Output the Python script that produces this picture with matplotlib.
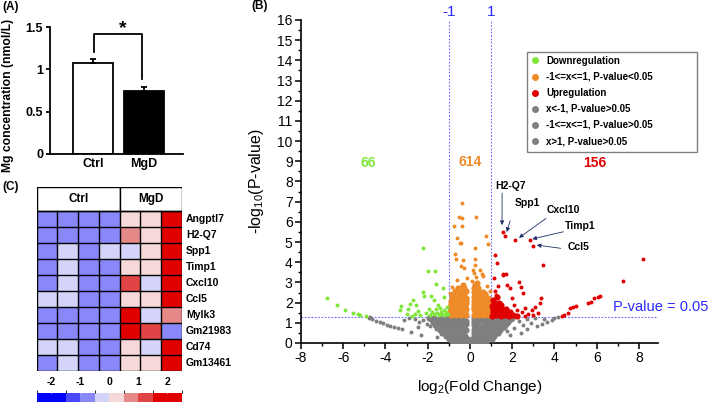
import matplotlib.pyplot as plt
from matplotlib.colors import ListedColormap, BoundaryNorm
from matplotlib.cm import ScalarMappable
from matplotlib.lines import Line2D
from matplotlib.patches import Rectangle
from matplotlib.ticker import MultipleLocator

plt.rcParams['font.family'] = ['Liberation Sans', 'DejaVu Sans']
plt.rcParams['mathtext.default'] = 'regular'
plt.rcParams['axes.unicode_minus'] = False

# ---- panel A data
groups = ['Ctrl', 'MgD']
mg_mean = [1.08, 0.74]
mg_err = [0.04, 0.05]

# ---- panel C data
genes = ['Angptl7', 'H2-Q7', 'Spp1', 'Timp1', 'Cxcl10', 'Ccl5', 'Mylk3',
         'Gm21983', 'Cd74', 'Gm13461']
heat_values = [
    [-0.75, -0.75, -0.75, -0.75, 0.25, 0.25, 2.0],
    [-0.75, -0.75, -0.75, -0.75, 0.75, 0.25, 2.0],
    [-0.75, -0.25, -0.75, -0.25, -0.25, 0.25, 2.0],
    [-0.75, -0.25, -0.75, -0.75, 0.25, 0.25, 2.0],
    [-0.75, -0.25, -0.75, -0.75, 1.25, -0.25, 2.0],
    [-0.25, -0.25, -0.75, -0.75, 0.25, 0.25, 2.0],
    [-0.75, -0.75, -0.75, -0.75, 2.0, -0.25, 0.75],
    [-0.75, -0.75, -0.75, -0.75, 2.0, 1.25, -0.75],
    [-0.25, -0.25, -0.75, -0.75, 0.25, -0.25, 2.0],
    [-0.75, -0.25, -0.75, -0.75, 0.25, 0.25, 2.0],
]
cb_bounds = [-2.5, -1.5, -1, -0.5, 0, 0.5, 1, 1.5, 2.5]
cb_colors = ['#0000ff', '#4848ff', '#8888fa', '#d4d4fa',
             '#f6d8d8', '#e48888', '#e04444', '#e00000']
cb_ticks = [-2, -1, 0, 1, 2]

# ---- panel B data (log2 fold change, -log10 p)
down_pts = [(-6.77, 2.21), (-6.30, 1.88), (-5.92, 1.63), (-5.56, 1.47), (-5.28, 1.43),
            (-5.22, 1.38), (-4.93, 1.35), (-3.28, 1.83), (-3.30, 1.63), (-2.92, 1.70),
            (-2.84, 1.93), (-2.72, 2.13), (-2.24, 2.54), (-2.17, 2.33), (-2.00, 3.56),
            (-2.20, 4.72), (-1.66, 3.56), (-1.60, 2.92), (-1.86, 2.33), (-1.70, 2.12),
            (-1.26, 2.70), (-1.22, 2.26), (-2.60, 1.45), (-2.45, 1.60), (-2.35, 1.40),
            (-2.10, 1.50), (-1.95, 1.70), (-1.90, 1.38), (-1.80, 1.55), (-1.70, 1.42),
            (-1.62, 1.66), (-1.55, 1.50), (-1.48, 1.38), (-1.42, 1.75), (-1.38, 1.55),
            (-1.30, 1.45), (-1.25, 1.62), (-1.18, 1.38), (-1.12, 1.52), (-1.08, 1.80),
            (-1.05, 1.42), (-2.75, 1.35), (-3.00, 1.42), (-2.55, 1.88), (-1.50, 1.90)]

up_pts = [(1.55, 5.50), (1.66, 5.30), (2.13, 5.10), (2.84, 5.10), (2.99, 4.80),
          (3.47, 3.86), (8.20, 4.15), (7.25, 3.07), (6.18, 2.33), (6.05, 2.28),
          (5.88, 2.24), (5.72, 2.05), (5.60, 1.97), (5.02, 1.83), (4.90, 1.78),
          (4.74, 1.72), (4.65, 1.48), (4.45, 1.39), (4.34, 1.35), (1.58, 3.42),
          (1.34, 2.82), (1.77, 2.87), (1.90, 2.70), (1.18, 2.59), (1.98, 2.21),
          (2.34, 3.03), (2.42, 2.76), (2.53, 2.49), (3.36, 2.21), (3.32, 2.00),
          (3.08, 1.77), (2.92, 1.63), (2.60, 1.72), (2.45, 1.55), (2.21, 1.63),
          (2.76, 1.43), (1.12, 3.20), (1.25, 2.40), (2.10, 1.90), (2.60, 1.35),
          (3.00, 1.40), (3.20, 1.50), (1.18, 4.36), (1.30, 3.94), (1.55, 3.37),
          (1.70, 3.42)]
up_core = [(1.05, 1.36), (1.25, 1.38), (1.45, 1.35), (1.65, 1.37), (1.85, 1.36),
           (2.05, 1.38), (2.25, 1.36), (1.08, 1.52), (1.28, 1.50), (1.48, 1.53),
           (1.68, 1.50), (1.90, 1.52), (1.10, 1.68), (1.30, 1.66), (1.52, 1.70),
           (1.72, 1.67), (1.06, 1.84), (1.26, 1.82), (1.48, 1.86), (1.15, 2.00),
           (1.38, 1.98), (1.10, 2.15), (1.30, 2.30)]

mid_pts = [(-0.38, 6.93), (-0.54, 6.25), (-0.37, 6.20), (0.29, 6.24), (-0.77, 5.80),
           (-0.38, 5.80), (0.76, 5.30), (-0.61, 5.20), (-0.47, 4.97), (-0.42, 4.97),
           (0.85, 4.90), (0.25, 4.70), (-0.70, 4.40), (-0.66, 4.16), (-0.35, 4.10),
           (0.22, 4.15), (-0.42, 3.80), (-0.28, 3.70), (0.24, 3.86), (0.47, 3.60),
           (0.20, 3.47), (0.55, 3.40), (0.62, 3.30), (0.30, 3.25), (-0.15, 3.20),
           (-0.60, 3.10), (-0.85, 2.75), (0.80, 2.80), (0.95, 2.60), (-0.95, 2.50),
           (0.15, 3.60), (0.10, 3.05)]
mid_core = [(-0.92, 1.38), (-0.68, 1.40), (-0.44, 1.37), (-0.20, 1.39), (0.20, 1.38),
            (0.44, 1.40), (0.68, 1.37), (0.92, 1.39), (-0.95, 1.52), (-0.72, 1.54),
            (-0.48, 1.51), (-0.24, 1.53), (0.22, 1.52), (0.47, 1.54), (0.72, 1.51),
            (0.95, 1.53), (-0.90, 1.66), (-0.66, 1.68), (-0.42, 1.65), (-0.19, 1.67),
            (0.18, 1.66), (0.42, 1.68), (0.66, 1.65), (0.90, 1.67), (-0.94, 1.80),
            (-0.70, 1.82), (-0.46, 1.79), (-0.22, 1.81), (0.21, 1.80), (0.45, 1.82),
            (0.70, 1.79), (0.93, 1.81), (-0.88, 1.95), (-0.64, 1.97), (-0.40, 1.94),
            (-0.18, 1.96), (0.18, 1.95), (0.41, 1.97), (0.65, 1.94), (0.88, 1.96),
            (-0.90, 2.10), (-0.66, 2.12), (-0.42, 2.09), (-0.20, 2.11), (0.20, 2.10),
            (0.43, 2.12), (0.67, 2.09), (0.90, 2.11), (-0.84, 2.26), (-0.60, 2.24),
            (-0.36, 2.27), (-0.17, 2.25), (0.17, 2.26), (0.38, 2.24), (0.62, 2.27),
            (0.86, 2.25), (-0.78, 2.40), (-0.52, 2.42), (-0.30, 2.39), (0.22, 2.41),
            (0.45, 2.40), (0.70, 2.42), (-0.70, 2.56), (-0.42, 2.54), (-0.20, 2.57),
            (0.18, 2.55), (0.40, 2.56), (0.62, 2.54), (-0.55, 2.70), (-0.28, 2.72),
            (0.20, 2.70), (0.38, 2.72), (-0.35, 2.86), (0.24, 2.85), (0.32, 2.98)]

ns_pts = [(-4.74, 1.27), (-4.80, 1.22), (-4.62, 1.18), (-4.45, 1.10), (-4.27, 1.04),
          (-4.10, 0.98), (-3.95, 0.90), (-3.80, 0.84), (-3.60, 0.78), (-3.43, 0.73),
          (-3.22, 0.69), (-2.80, 0.56), (-2.32, 0.40), (-2.05, 0.94), (-1.90, 0.82),
          (-1.60, 0.70), (-1.58, 0.30), (-2.60, 1.20), (-2.40, 1.05), (-2.20, 1.15),
          (-2.90, 1.25), (-3.10, 1.15), (-2.45, 0.78), (-1.75, 1.05),
          (4.18, 1.30), (3.87, 1.14), (3.63, 1.05), (3.40, 0.94), (3.16, 0.84),
          (2.68, 0.68), (1.90, 0.40), (2.90, 1.00), (2.50, 0.90), (2.30, 1.10),
          (2.70, 1.20), (3.10, 1.22), (2.10, 0.75), (1.75, 0.60), (2.40, 0.50),
          (3.50, 1.20), (4.00, 1.22)]
ns_core = [(-0.85, 0.08), (-0.62, 0.05), (-0.38, 0.07), (-0.15, 0.04), (0.08, 0.06),
           (0.30, 0.05), (0.52, 0.08), (0.75, 0.06), (-1.00, 0.20), (-0.78, 0.22),
           (-0.55, 0.18), (-0.32, 0.21), (-0.10, 0.19), (0.14, 0.20), (0.36, 0.22),
           (0.60, 0.18), (0.83, 0.21), (1.02, 0.19), (-1.15, 0.34), (-0.92, 0.36),
           (-0.70, 0.33), (-0.46, 0.35), (-0.22, 0.37), (0.20, 0.34), (0.44, 0.36),
           (0.68, 0.33), (0.92, 0.35), (1.16, 0.37), (-1.30, 0.48), (-1.06, 0.50),
           (-0.83, 0.47), (-0.58, 0.51), (-0.32, 0.49), (0.18, 0.48), (0.36, 0.50),
           (0.60, 0.53), (0.85, 0.49), (1.10, 0.51), (1.34, 0.48), (-1.43, 0.63),
           (-1.19, 0.65), (-0.95, 0.62), (-0.70, 0.66), (-0.44, 0.64), (-0.18, 0.62),
           (0.17, 0.65), (0.42, 0.63), (0.67, 0.66), (0.92, 0.62), (1.18, 0.64),
           (1.44, 0.66), (-1.56, 0.77), (-1.30, 0.79), (-1.05, 0.76), (-0.80, 0.80),
           (-0.55, 0.78), (-0.28, 0.77), (0.30, 0.79), (0.58, 0.76), (0.83, 0.80),
           (1.08, 0.78), (1.34, 0.77), (1.60, 0.80), (-1.66, 0.91), (-1.40, 0.93),
           (-1.15, 0.90), (-0.90, 0.94), (-0.63, 0.92), (-0.36, 0.90), (-0.17, 0.93),
           (0.17, 0.91), (0.38, 0.94), (0.65, 0.91), (0.90, 0.93), (1.16, 0.90),
           (1.42, 0.94), (1.70, 0.92), (-1.76, 1.05), (-1.50, 1.07), (-1.25, 1.04),
           (-1.00, 1.08), (-0.72, 1.05), (-0.45, 1.03), (-0.18, 1.07), (0.18, 1.05),
           (0.42, 1.08), (0.70, 1.04), (0.98, 1.06), (1.25, 1.05), (1.52, 1.08),
           (1.80, 1.04), (-1.86, 1.18), (-1.60, 1.16), (-1.35, 1.19), (-1.08, 1.17),
           (-0.80, 1.15), (-0.52, 1.18), (-0.26, 1.16), (0.20, 1.17), (0.30, 1.16),
           (0.56, 1.19), (0.82, 1.17), (1.10, 1.15), (1.38, 1.18), (1.66, 1.16),
           (1.94, 1.19), (-1.96, 1.25), (-1.70, 1.26), (-1.42, 1.24), (-1.15, 1.26),
           (-0.88, 1.25), (-0.60, 1.24), (-0.33, 1.26), (0.35, 1.25), (0.62, 1.26),
           (0.90, 1.24), (1.18, 1.25), (1.45, 1.26), (1.72, 1.24), (2.00, 1.26)]

counts = {'down': '66', 'mid': '614', 'up': '156'}
labelled = [('H2-Q7', (1.52, 5.84), (1.52, 7.43), (1.9, 7.77)),
            ('Spp1', (1.74, 5.50), (1.90, 6.05), (2.7, 6.93)),
            ('Cxcl10', (2.32, 5.21), (3.60, 6.17), (4.41, 6.58)),
            ('Timp1', (2.95, 5.15), (4.42, 5.51), (5.24, 5.79)),
            ('Ccl5', (3.16, 4.85), (4.30, 4.69), (5.12, 4.74))]

green = '#80e63a'
orange = '#ee8a28'
red = '#e00000'
grey = '#7f7f7f'
vblue = '#6a6aff'

fig = plt.figure(figsize=(7.09, 4.03), dpi=100)

# ================= (A) bar chart
axA = fig.add_axes([0.0705, 0.6179, 0.1876, 0.3151])
xpos = [0, 1]
axA.bar(xpos, mg_mean, width=0.78, color=['white', 'black'], edgecolor='black', linewidth=1.3)
axA.errorbar(xpos, mg_mean, yerr=[[0, 0], mg_err], fmt='none', ecolor='black',
             elinewidth=1.3, capsize=2.5, capthick=1.3)
axA.set_xlim(-0.84, 1.77)
axA.set_ylim(0, 1.5)
axA.spines[['top', 'right']].set_visible(False)
axA.spines[['left', 'bottom']].set_linewidth(1.3)
axA.set_yticks([0, 0.5, 1, 1.5])
axA.set_yticklabels(['0', '0.5', '1', '1.5'], fontsize=9, fontweight='bold')
axA.set_xticks(xpos)
axA.set_xticklabels(groups, fontsize=9, fontweight='bold')
axA.tick_params(axis='x', length=0, pad=3)
axA.tick_params(axis='y', length=3, width=1.3, pad=2)
axA.set_ylabel('Mg concentration (nmol/L)', fontsize=8.7, fontweight='bold', labelpad=5)
axA.yaxis.set_label_coords(-0.27, 0.46)
axA.plot([0.02, 0.02, 0.97, 0.97], [1.21, 1.42, 1.42, 0.89], color='black', lw=1.3, clip_on=False)
axA.text(0.59, 1.48, '*', ha='center', va='center', fontsize=14, fontweight='bold')

# ================= (C) heatmap
cmap = ListedColormap(cb_colors)
norm = BoundaryNorm(cb_bounds, cmap.N)
axC = fig.add_axes([0.0518, 0.0801, 0.2045, 0.4558])
axC.imshow(heat_values, cmap=cmap, norm=norm, extent=(0, 7, 10, 0),
           aspect='auto', interpolation='nearest')
axC.set_xlim(0, 7)
axC.set_ylim(10, -1.5)
for i in range(11):
    axC.plot([0, 7], [i, i], color='black', lw=1)
for j in range(8):
    axC.plot([j, j], [0, 10], color='black', lw=1)
axC.add_patch(Rectangle((0, -1.5), 4, 1.5, facecolor='white', edgecolor='black', lw=1))
axC.add_patch(Rectangle((4, -1.5), 3, 1.5, facecolor='white', edgecolor='black', lw=1))
axC.text(2, -0.75, 'Ctrl', ha='center', va='center', fontsize=8.5, fontweight='bold')
axC.text(5.5, -0.75, 'MgD', ha='center', va='center', fontsize=8.5, fontweight='bold')
for i, g in enumerate(genes):
    axC.text(7.2, i + 0.5, g, ha='left', va='center', fontsize=7.5, fontweight='bold')
axC.axis('off')

cax = fig.add_axes([0.0518, 0.0032, 0.2045, 0.0223])
cb = fig.colorbar(ScalarMappable(norm=norm, cmap=cmap), cax=cax, orientation='horizontal',
                  spacing='proportional', ticks=cb_ticks)
cb.outline.set_visible(False)
cax.xaxis.set_ticks_position('top')
cax.tick_params(length=2, width=0.8, pad=2, labelsize=7.5, color='white')
cax.set_xticklabels([str(t) for t in cb_ticks], fontweight='bold')

# ================= (B) volcano
axB = fig.add_axes([0.4245, 0.1489, 0.5035, 0.8015])
axB.set_xlim(-8, 8.9)
axB.set_ylim(0, 16)

def scat(pts, c, s):
    axB.scatter([p[0] for p in pts], [p[1] for p in pts], s=s, c=c, linewidths=0, zorder=3)

scat(ns_core, grey, 20)
scat(ns_pts, grey, 8)
scat(mid_core, orange, 20)
scat(mid_pts, orange, 8)
scat(down_pts, green, 8)
scat(up_core, red, 20)
scat(up_pts, red, 8)

axB.axvline(-1, color=vblue, lw=0.8, ls=(0, (1.5, 1.5)), zorder=2)
axB.axvline(1, color=vblue, lw=0.8, ls=(0, (1.5, 1.5)), zorder=2)
axB.axhline(1.3, color=vblue, lw=0.8, ls=(0, (1.5, 1.5)), zorder=2)
axB.text(-1, 16.4, '-1', color='#2a2aff', fontsize=11, ha='center', va='center', clip_on=False)
axB.text(1, 16.4, '1', color='#2a2aff', fontsize=11, ha='center', va='center', clip_on=False)
axB.text(6.78, 1.78, 'P-value = 0.05', color='#2a2aff', fontsize=10.5, ha='left', va='center',
         clip_on=False)

axB.text(-4.83, 8.9, counts['down'], color=green, fontsize=10, fontweight='bold', ha='center', va='center')
axB.text(0.03, 8.96, counts['mid'], color=orange, fontsize=10, fontweight='bold', ha='center', va='center')
axB.text(5.92, 8.93, counts['up'], color=red, fontsize=10, fontweight='bold', ha='center', va='center')

for name, tip, tail, txt in labelled:
    axB.annotate('', xy=tip, xytext=tail,
                 arrowprops=dict(arrowstyle='-|>', color='#1f3166', lw=0.6,
                                 mutation_scale=6, shrinkA=0, shrinkB=0), zorder=4)
    axB.text(txt[0], txt[1], name, fontsize=7.5, fontweight='bold', ha='center', va='center')

axB.spines[['top', 'right']].set_visible(False)
axB.spines[['left', 'bottom']].set_linewidth(1.2)
axB.xaxis.set_major_locator(MultipleLocator(2))
axB.xaxis.set_minor_locator(MultipleLocator(1))
axB.yaxis.set_major_locator(MultipleLocator(1))
axB.yaxis.set_minor_locator(MultipleLocator(0.5))
axB.tick_params(which='major', length=4, width=1.1, labelsize=10, pad=2)
axB.tick_params(which='minor', length=2, width=1.0)
axB.set_xlabel('log$_2$(Fold Change)', fontsize=11, labelpad=9)
axB.set_ylabel('-log$_{10}$(P-value)', fontsize=11.5, labelpad=8)

handles = [Line2D([], [], marker='o', ls='', color=c, markersize=4)
           for c in [green, orange, red, grey, grey, grey]]
labels = ['Downregulation', '-1<=x<=1, P-value<0.05', 'Upregulation',
          'x<-1, P-value>0.05', '-1<=x<=1, P-value>0.05', 'x>1, P-value>0.05']
leg = axB.legend(handles, labels, loc='upper left', bbox_to_anchor=(0.7433, 0.871),
                 bbox_transform=fig.transFigure, borderaxespad=0, frameon=False,
                 handlelength=0.8, handletextpad=0.8,
                 labelspacing=0.62, borderpad=0.4, prop={'size': 7, 'weight': 'bold'})
fig.add_artist(Rectangle((527 / 709, 1 - 152 / 403), 170 / 709, 100 / 403,
                         transform=fig.transFigure, facecolor='none',
                         edgecolor='#808080', lw=1.0))

fig.text(0.003, 1 - 7 / 403, '(A)', fontsize=8.5, fontweight='bold', va='center')
fig.text(251 / 709, 1 - 6 / 403, '(B)', fontsize=8.5, fontweight='bold', va='center')
fig.text(0.003, 1 - 187 / 403, '(C)', fontsize=8.5, fontweight='bold', va='center')

fig.savefig('out.png', dpi=100)
